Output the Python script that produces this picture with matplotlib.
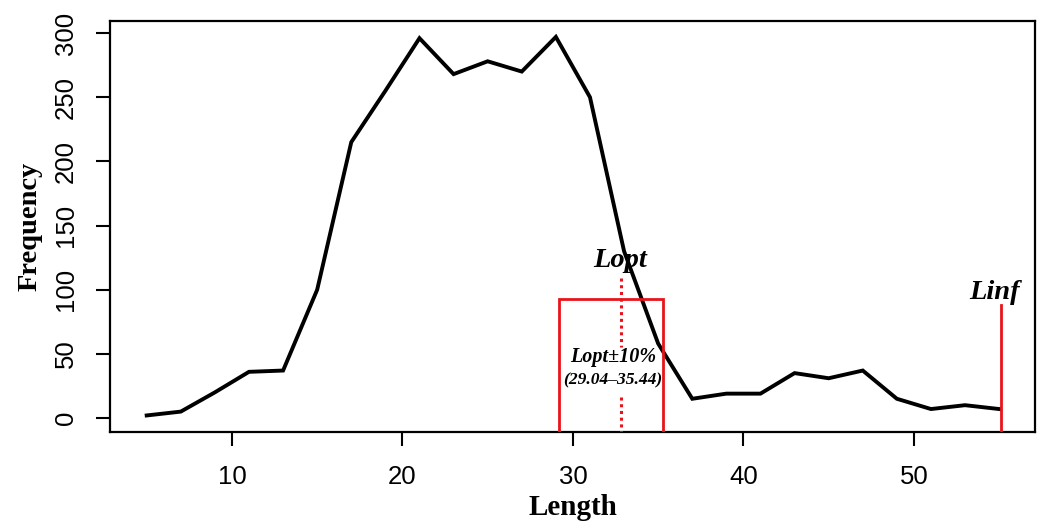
import matplotlib
matplotlib.use("Agg")
import matplotlib.pyplot as plt
from matplotlib.patches import Rectangle

# Data
length = [5, 7, 9, 11, 13, 15, 17, 19, 21, 23, 25, 27, 29, 31, 33, 35, 37, 39, 41, 43, 45, 47, 49, 51, 53, 55]
frequency = [2, 5, 20, 36, 37, 100, 215, 255, 296, 268, 278, 270, 297, 250, 130, 58, 15, 19, 19, 35, 31, 37, 15, 7, 10, 7]

x_ticks = [10, 20, 30, 40, 50]
y_ticks = [0, 50, 100, 150, 200, 250, 300]

lopt = 32.8
lopt_range = (29.2, 35.3)
lopt_box_top = 93
linf = 55.1
linf_top = 88

fig = plt.figure(figsize=(10.41, 5.22), dpi=100)
ax = fig.add_axes([0.1057, 0.1724, 0.9942 - 0.1057, (522 - 21) / 522 - 0.1724])

ax.plot(length, frequency, color="black", lw=2.8, solid_joinstyle="miter")

ax.set_xlim(2.85, 57.1)
ax.set_ylim(-10.9, 309.4)

# Lopt +-10% box
ax.add_patch(Rectangle((lopt_range[0], -30), lopt_range[1] - lopt_range[0], lopt_box_top + 30,
                       fill=False, edgecolor="#e8141b", lw=2.0, zorder=3))
# Lopt dotted line (interrupted by text)
dot_style = dict(color="#e8141b", lw=2.2, linestyle=(0, (1, 1.2)), dash_capstyle="butt", zorder=3)
ax.plot([lopt, lopt], [109, 55], **dot_style)
ax.plot([lopt, lopt], [16, -12], **dot_style)

# Linf line
ax.plot([linf, linf], [-30, linf_top], color="#e8141b", lw=2.0, zorder=3)

serif_bi = dict(family="Liberation Serif", weight="bold", style="italic")
ax.text(lopt - 0.05, 123, "Lopt", ha="center", va="center", fontsize=20.5, **serif_bi)
ax.text(54.7, 98, "Linf", ha="center", va="center", fontsize=20.5, **serif_bi)
ax.text(32.35, 47.5, "Lopt±10%", ha="center", va="center", fontsize=14.5, **serif_bi)
ax.text(32.35, 29.6, "(29.04–35.44)", ha="center", va="center", fontsize=12.6, **serif_bi)

ax.set_xticks(x_ticks)
ax.set_yticks(y_ticks)
ax.set_xticklabels([str(t) for t in x_ticks], fontsize=18.5, family="Liberation Sans")
ax.set_yticklabels([str(t) for t in y_ticks], fontsize=18.5, family="Liberation Sans",
                   rotation=90, va="center")
ax.tick_params(axis="x", length=10, width=1.5, pad=14)
ax.tick_params(axis="y", length=10, width=1.5, pad=13)

ax.set_xlabel("Length", fontsize=21, family="Liberation Serif", weight="bold", labelpad=3)
ax.set_ylabel("Frequency", fontsize=20.5, family="Liberation Serif", weight="bold", labelpad=8)

for s in ax.spines.values():
    s.set_linewidth(1.6)
    s.set_color("black")

fig.savefig("out.png", dpi=100)
